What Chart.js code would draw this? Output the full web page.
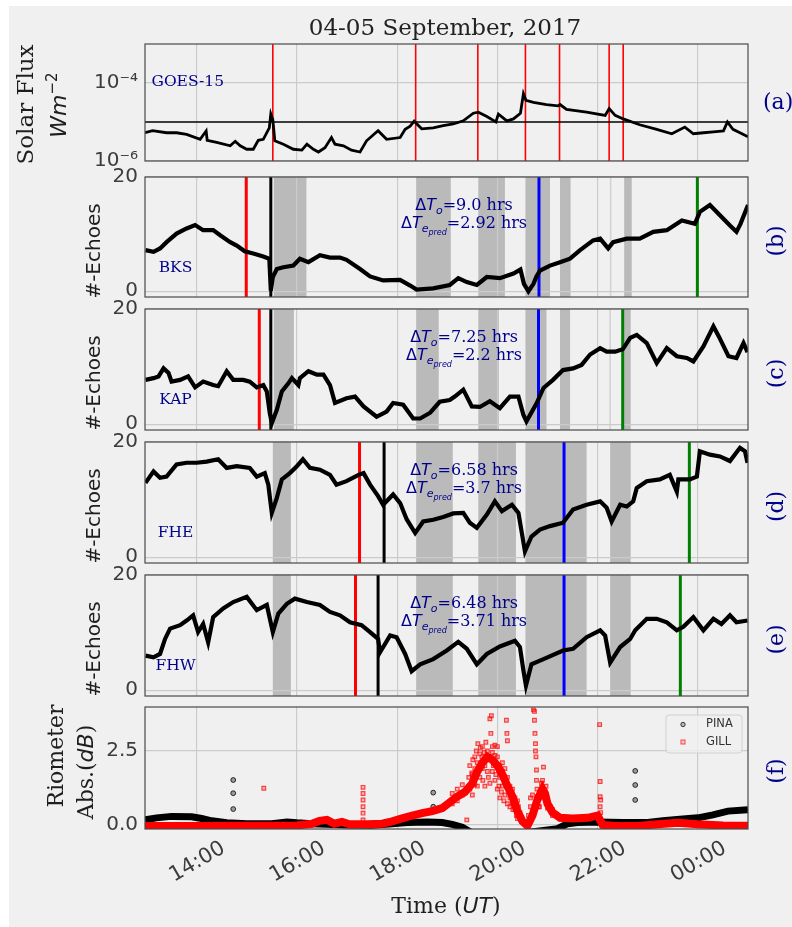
<!DOCTYPE html>
<html>
<head>
<meta charset="utf-8">
<script src="https://cdn.jsdelivr.net/npm/chart.js@4.4.1/dist/chart.umd.min.js"></script>
<style>
  body { margin: 0; background: #fff; }
  #fig { position: relative; width: 792px; height: 927px; overflow: hidden; background: #fff; }
  #bg { position: absolute; left: 9px; top: 6px; right: 0; bottom: 0; background: #f0f0f0; }
  canvas { position: absolute; left: 0; }
</style>
</head>
<body>
<div id="fig"><div id="bg"></div></div>
<script>
// ---- data (time in hours UT, 24+ = next day) ----
const xTicks = [14, 16, 18, 20, 22, 24];

// GOES-15 X-ray flux (W m^-2)
const goesTime = [12.97,13.12,13.40,13.60,13.80,14.07,14.19,14.21,14.40,14.67,14.77,14.87,15.00,15.13,15.23,15.33,15.45,15.48,15.52,15.56,15.73,15.93,16.10,16.20,16.33,16.43,16.56,16.69,16.76,16.93,17.09,17.26,17.39,17.62,17.79,18.06,18.16,18.26,18.34,18.49,18.72,18.92,19.12,19.32,19.52,19.62,19.79,19.97,20.02,20.19,20.32,20.46,20.52,20.57,20.72,20.98,21.21,21.25,21.38,21.78,22.15,22.23,22.35,22.51,22.84,23.18,23.48,23.74,23.91,24.11,24.31,24.51,24.59,24.70,24.84,25.0];
const goesFlux = [5.3e-6,6.0e-6,5.3e-6,5.3e-6,4.8e-6,3.6e-6,5.9e-6,3.4e-6,3.0e-6,2.45e-6,3.2e-6,2.45e-6,2.0e-6,2.0e-6,3.4e-6,3.6e-6,7.1e-6,1.6e-5,1.15e-5,3.3e-6,2.7e-6,2.0e-6,1.9e-6,2.7e-6,2.0e-6,1.7e-6,2.2e-6,4.0e-6,2.7e-6,2.45e-6,1.9e-6,1.7e-6,3.3e-6,6.0e-6,3.6e-6,4.0e-6,6.5e-6,7.8e-6,1.05e-5,6.7e-6,7.1e-6,8.1e-6,8.9e-6,1.07e-5,1.68e-5,1.78e-5,1.38e-5,1.0e-5,1.6e-5,1.07e-5,1.2e-5,1.68e-5,5.3e-5,3.6e-5,3.2e-5,2.8e-5,2.6e-5,2.8e-5,2.1e-5,1.78e-5,1.48e-5,2.2e-5,1.48e-5,1.2e-5,8.5e-6,6.5e-6,5.0e-6,7.4e-6,5.0e-6,5.3e-6,5.6e-6,5.9e-6,1.0e-5,6.5e-6,5.3e-6,4.2e-6];
const flareTimes = [15.52, 18.37, 19.61, 20.56, 21.24, 22.23, 22.51];
const mClass = 1e-5;

// SuperDARN echoes
const bksTime = [12.98,13.14,13.27,13.40,13.60,13.80,13.97,14.13,14.33,14.47,14.67,14.80,14.96,15.13,15.33,15.45,15.48,15.52,15.60,15.73,15.93,16.06,16.23,16.46,16.66,16.86,16.99,17.26,17.46,17.72,18.06,18.26,18.39,18.72,19.05,19.22,19.39,19.59,19.79,20.05,20.32,20.46,20.53,20.62,20.72,20.78,20.85,21.05,21.25,21.45,21.65,21.91,22.05,22.21,22.31,22.58,22.84,23.11,23.38,23.68,23.94,24.04,24.24,24.44,24.64,24.77,24.85,25.0];
const bksVal = [7.2,6.9,7.5,8.6,10.1,11.0,11.6,10.7,10.7,9.8,8.6,8.0,7.0,6.6,6.1,5.7,0.1,2.5,3.9,4.2,4.5,5.7,5.1,6.3,5.9,5.9,5.5,3.9,2.6,1.9,2.0,1.0,0.3,0.5,1.1,2.3,1.6,1.1,2.5,2.3,3.1,3.8,1.3,0.0,1.3,2.6,3.6,4.5,5.1,5.7,7.2,8.9,9.2,7.5,8.6,9.2,9.2,10.4,10.7,12.4,11.8,13.9,15.1,13.3,11.5,10.4,11.8,15.1];

const kapTime = [12.98,13.14,13.24,13.34,13.44,13.50,13.67,13.83,13.97,14.13,14.33,14.43,14.60,14.73,14.93,15.06,15.20,15.33,15.40,15.46,15.50,15.60,15.70,15.83,15.90,16.03,16.06,16.23,16.40,16.53,16.66,16.76,16.99,17.16,17.33,17.59,17.79,17.92,18.12,18.32,18.46,18.66,18.85,19.05,19.15,19.32,19.49,19.65,19.85,20.05,20.25,20.42,20.52,20.58,20.78,20.92,21.11,21.31,21.51,21.68,21.85,22.05,22.18,22.35,22.50,22.65,22.78,22.98,23.18,23.38,23.58,23.78,23.91,24.11,24.31,24.42,24.61,24.77,24.91,24.99];
const kapVal = [7.7,8.0,8.3,9.7,8.9,7.4,7.7,8.3,6.4,7.4,6.8,6.6,9.2,7.7,7.7,7.4,6.4,6.8,5.7,1.9,0.2,2.5,5.7,7.1,8.0,6.8,8.0,9.2,8.6,8.6,6.8,3.7,4.5,4.8,3.1,1.3,2.2,3.7,3.4,1.0,1.0,2.0,3.9,4.2,4.8,6.0,3.1,3.0,4.0,2.8,4.8,4.8,1.6,0.5,3.6,6.3,7.7,9.4,9.7,10.3,12.1,13.2,12.6,12.6,13.0,15.0,15.5,14.1,10.6,13.2,11.8,11.5,10.9,13.5,17.0,15.2,11.8,11.5,14.1,12.5];

const fheTime = [12.98,13.14,13.27,13.40,13.60,13.80,14.00,14.20,14.43,14.60,14.80,15.06,15.20,15.36,15.43,15.50,15.60,15.70,15.86,16.00,16.12,16.26,16.46,16.66,16.79,16.99,17.23,17.33,17.46,17.62,17.72,17.92,18.06,18.19,18.36,18.52,18.72,18.92,19.12,19.32,19.45,19.59,19.79,19.95,20.09,20.29,20.42,20.50,20.55,20.68,20.85,21.05,21.31,21.51,21.78,22.05,22.18,22.28,22.45,22.58,22.71,22.78,22.98,23.24,23.44,23.58,23.61,23.84,23.98,24.04,24.24,24.44,24.64,24.84,24.94,24.99];
const fheVal = [12.9,14.9,13.8,14.0,16.1,16.4,16.4,16.6,17.0,15.5,15.8,15.5,14.0,14.6,12.6,7.7,10.3,13.5,14.6,15.8,17.0,15.5,15.2,14.3,12.6,13.2,14.3,14.6,12.6,10.6,9.1,10.9,9.4,6.6,4.2,6.2,6.5,7.0,7.6,7.7,6.0,5.1,7.4,9.7,8.0,9.1,7.7,3.6,1.0,3.6,4.8,5.4,6.0,8.3,9.1,9.7,8.6,6.2,9.1,8.8,9.7,12.0,13.2,13.5,14.3,11.4,13.5,13.5,14.0,18.4,17.8,17.5,16.7,19.0,18.4,16.4];

const fhwTime = [12.98,13.14,13.27,13.37,13.47,13.67,13.80,13.93,14.03,14.13,14.23,14.33,14.53,14.73,15.00,15.20,15.40,15.52,15.63,15.80,15.96,16.20,16.46,16.66,16.86,17.06,17.29,17.46,17.62,17.66,17.86,17.99,18.16,18.29,18.46,18.72,18.99,19.22,19.39,19.59,19.79,20.05,20.35,20.45,20.52,20.57,20.68,20.92,21.31,21.51,21.78,22.05,22.15,22.25,22.45,22.65,22.75,22.98,23.18,23.38,23.58,23.71,23.91,24.11,24.31,24.47,24.64,24.77,24.99];
const fhwVal = [6.0,5.7,6.3,8.9,10.7,11.3,12.1,13.0,10.1,11.5,8.3,12.7,14.2,15.3,16.2,13.9,14.8,10.1,13.3,15.0,15.9,15.3,14.8,13.6,13.0,11.8,11.3,10.1,8.9,6.6,9.5,9.2,6.3,3.3,4.5,5.4,6.9,8.4,7.2,4.5,6.3,7.6,8.6,7.5,3.4,0.8,4.5,5.4,6.9,7.2,9.2,10.4,9.5,4.8,7.5,8.9,10.4,12.4,12.4,11.8,10.4,11.0,12.7,10.4,12.4,11.5,13.0,11.8,12.1];

// event markers per radar: [red, black, blue, green]
const eventsB = [14.99, 15.48, 20.83, 23.99];
const eventsC = [15.25, 15.48, 20.82, 22.50];
const eventsD = [17.25, 17.74, 21.33, 23.83];
const eventsE = [17.17, 17.62, 21.33, 23.65];

// shaded intervals
const shadeB = [[15.54,16.19],[18.38,19.07],[19.62,20.15],[20.56,21.05],[21.25,21.46],[22.53,22.68]];
const shadeC = [[15.54,15.94],[18.38,18.83],[19.62,20.03],[20.56,20.98],[21.25,21.45],[22.51,22.66]];
const shadeD = [[15.52,15.88],[18.38,19.11],[19.62,20.37],[20.56,21.78],[22.25,22.66]];
const shadeE = [[15.52,15.88],[18.38,19.11],[19.62,20.37],[20.56,21.78],[22.25,22.66]];

const stations = ['BKS', 'KAP', 'FHE', 'FHW'];
const dTo = ['9.0', '7.25', '6.58', '6.48'];
const dTe = ['2.92', '2.2', '3.7', '3.71'];

// riometer absorption (dB)
const pinaTime = [12.97,13.2,13.5,13.9,14.1,14.3,14.6,15.0,15.5,15.8,16.0,16.3,16.6,17.0,17.5,17.9,18.2,18.6,18.9,19.1,19.3,19.5,20.5,21.2,21.4,21.6,22.0,22.5,23.0,23.3,23.7,24.0,24.3,24.6,25.0];
const pinaVal = [0.15,0.22,0.27,0.26,0.2,0.12,0.05,0.02,0.02,0.08,0.05,0.02,0.0,-0.02,-0.03,0.02,0.06,0.08,0.06,0.0,-0.1,-0.3,-0.3,-0.15,0.02,0.06,0.08,0.06,0.06,0.12,0.18,0.22,0.32,0.45,0.5];
const pinaOutT = [14.73,14.73,14.73,18.72,18.72,22.75,22.75,22.75];
const pinaOutV = [1.51,1.06,0.52,1.08,0.6,1.82,1.34,0.83];

const gillTime = [12.97,14.0,15.0,16.0,16.3,16.45,16.6,16.75,16.9,17.05,17.4,17.7,17.9,18.1,18.3,18.5,18.7,18.9,19.05,19.2,19.35,19.5,19.6,19.7,19.8,19.9,20.0,20.1,20.2,20.3,20.4,20.5,20.6,20.7,20.8,20.9,20.95,21.0,21.1,21.25,21.5,21.8,22.0,22.1,22.3,22.8,23.2,23.6,24.0,24.5,25.0];
const gillVal = [-0.06,-0.06,-0.05,-0.04,0.02,0.12,0.15,0.02,0.08,0.0,0.0,0.02,0.1,0.2,0.3,0.38,0.45,0.55,0.75,0.95,1.1,1.4,1.8,2.1,2.3,2.2,2.0,1.7,1.3,0.95,0.45,0.1,-0.05,0.3,0.85,1.2,1.05,0.7,0.4,0.22,0.2,0.22,0.3,-0.02,-0.05,-0.06,0.0,0.05,0.0,-0.04,-0.05];
const gillCloudT = [15.34,17.32,17.32,17.32,17.32,17.32,17.32,19.1,19.1,19.2,19.2,19.3,19.3,19.39,19.43,19.45,19.45,19.49,19.5,19.5,19.51,19.55,19.55,19.55,19.58,19.6,19.6,19.61,19.63,19.65,19.65,19.66,19.69,19.7,19.7,19.71,19.74,19.75,19.75,19.77,19.79,19.8,19.8,19.82,19.85,19.85,19.85,19.87,19.88,19.9,19.9,19.9,19.92,19.95,19.95,19.95,19.97,20.0,20.0,20.0,20.03,20.05,20.05,20.05,20.08,20.1,20.1,20.1,20.13,20.15,20.15,20.15,20.18,20.19,20.2,20.2,20.2,20.22,20.25,20.25,20.25,20.28,20.3,20.3,20.31,20.35,20.35,20.38,20.4,20.4,20.42,20.45,20.62,20.66,20.66,20.7,20.72,20.74,20.74,20.75,20.76,20.76,20.77,20.78,20.78,20.79,20.8,20.82,20.84,20.84,20.88,20.9,20.9,20.92,20.95,20.97,20.97,21.0,21.05,21.1,21.1,22.04,22.05,22.05,22.06,22.05,22.06];
const gillCloudV = [1.23,1.26,1.05,0.83,0.6,0.38,0.15,0.7,1.05,0.8,1.2,1.0,1.35,0.15,1.6,2.0,1.2,1.75,1.0,1.7,2.2,1.35,1.9,2.3,2.5,1.3,2.1,2.75,1.9,1.6,2.4,2.6,2.3,1.9,2.65,1.5,2.45,1.3,2.0,2.8,2.2,2.5,1.8,1.6,3.6,1.4,2.3,3.1,3.7,2.65,1.8,2.45,2.0,2.35,1.5,2.7,1.7,2.65,1.2,2.3,1.3,2.0,1.6,0.9,1.1,1.8,1.3,2.1,0.8,1.5,1.0,1.9,3.55,3.1,2.85,0.7,1.6,1.2,0.6,1.3,0.9,1.0,0.7,1.2,0.5,0.9,0.5,0.3,0.8,0.2,0.6,0.4,0.3,0.6,0.9,1.0,3.9,3.85,3.55,3.1,2.75,2.5,2.3,1.85,1.5,1.2,0.95,0.6,1.1,0.6,1.4,1.5,0.9,1.95,1.15,1.3,0.8,0.55,0.6,0.3,0.5,3.4,1.46,0.94,0.83,0.6,0.4];

// ---- styling ----
const SANS = "'DejaVu Sans'", SERIF = "'DejaVu Serif'";
const X_MIN = 12.97, X_MAX = 25.0;
const GRID = '#cbcbcb', TICK = '#3c3c3c', LABEL = '#1e1e1e', BLUE = '#00008b';
const SHADE = 'rgba(120,120,120,0.45)';
Chart.defaults.font.family = SANS;

function pts(ts, vs) {
    return ts.map((t, i) => ({ x: t, y: vs[i] }));
}

function makeCanvas(top, height) {
    const c = document.createElement('canvas');
    c.width = 792; c.height = height;
    c.style.top = top + 'px';
    c.style.width = '792px'; c.style.height = height + 'px';
    document.getElementById('fig').appendChild(c);
    return c;
}

// text helpers (absolute page coordinates)
function drawRich(ctx, runs, x, y, rot) {
    ctx.save();
    ctx.translate(x, y);
    if (rot) ctx.rotate(rot);
    ctx.textAlign = 'left';
    ctx.textBaseline = 'alphabetic';
    let w = 0;
    runs.forEach(r => { ctx.font = r[1]; w += ctx.measureText(r[0]).width; });
    let cx = -w / 2;
    runs.forEach(r => {
        ctx.font = r[1];
        ctx.fillText(r[0], cx, r[2] || 0);
        cx += ctx.measureText(r[0]).width;
    });
    ctx.restore();
}

function vtext(ctx, txt, font, x, y) {
    ctx.save();
    ctx.translate(x, y);
    ctx.rotate(-Math.PI / 2);
    ctx.font = font;
    ctx.textAlign = 'center';
    ctx.textBaseline = 'middle';
    ctx.fillText(txt, 0, 0);
    ctx.restore();
}

function xScale(showLabels, height) {
    return {
        type: 'linear', min: X_MIN, max: X_MAX,
        afterBuildTicks: s => { s.ticks = xTicks.map(v => ({ value: v })); },
        afterFit: s => { s.height = height; },
        grid: { color: GRID, lineWidth: 1.2, drawTicks: false },
        border: { display: false },
        ticks: {
            display: showLabels, autoSkip: false,
            minRotation: 30, maxRotation: 30, labelOffset: 27, padding: 7,
            font: { family: SANS, size: 21 }, color: TICK,
            callback: v => String(Math.round(v) % 24).padStart(2, '0') + ':00'
        }
    };
}

function yScale(type, min, max, ticks, fmt) {
    return {
        type: type, min: min, max: max,
        afterBuildTicks: s => { s.ticks = ticks.map(v => ({ value: v })); },
        afterFit: s => { s.width = 145; },
        grid: { color: GRID, lineWidth: 1.2, drawTicks: false },
        border: { display: false },
        ticks: { padding: 7, font: { family: SANS, size: 20 }, color: TICK, callback: fmt }
    };
}

function panel(p) {
    const canvas = makeCanvas(p.canvasTop, p.canvasHeight);
    const deco = {
        id: 'deco',
        beforeDraw(chart) {
            const { ctx, chartArea: a, scales: { x } } = chart;
            ctx.save();
            ctx.fillStyle = SHADE;
            (p.spans || []).forEach(([t0, t1]) => {
                const x0 = x.getPixelForValue(t0), x1 = x.getPixelForValue(t1);
                ctx.fillRect(x0, a.top, x1 - x0, a.bottom - a.top);
            });
            (p.light || []).forEach(t => {
                const px = x.getPixelForValue(t);
                ctx.fillStyle = '#d3d3d3';
                ctx.fillRect(px - 0.8, a.top, 1.6, a.bottom - a.top);
            });
            ctx.restore();
        },
        beforeDatasetsDraw(chart) {
            const { ctx, chartArea: a, scales: { x, y } } = chart;
            ctx.save();
            (p.lines || []).forEach(([t, color, w]) => {
                const px = x.getPixelForValue(t);
                ctx.strokeStyle = color; ctx.lineWidth = w;
                ctx.beginPath(); ctx.moveTo(px, a.top); ctx.lineTo(px, a.bottom); ctx.stroke();
            });
            if (p.hline !== undefined) {
                const py = y.getPixelForValue(p.hline);
                ctx.strokeStyle = '#000'; ctx.lineWidth = 1.6;
                ctx.beginPath(); ctx.moveTo(a.left, py); ctx.lineTo(a.right, py); ctx.stroke();
            }
            ctx.restore();
        },
        afterDatasetsDraw(chart) {
            const { ctx, chartArea: a } = chart;
            ctx.save();
            ctx.strokeStyle = '#4a4a4a'; ctx.lineWidth = 1.2;
            ctx.strokeRect(a.left, a.top, a.right - a.left, a.bottom - a.top);
            ctx.restore();
        },
        afterDraw(chart) {
            const ctx = chart.ctx;
            ctx.save();
            ctx.translate(0, -p.canvasTop);
            p.text(ctx, chart);
            ctx.restore();
        }
    };
    return new Chart(canvas, {
        type: 'line',
        data: { datasets: p.datasets },
        options: {
            responsive: false, animation: false, devicePixelRatio: 1, events: [],
            layout: { padding: { left: 0, right: 44, top: p.padTop, bottom: p.padBottom } },
            plugins: { legend: { display: false }, tooltip: { enabled: false } },
            scales: { x: xScale(p.xLabels, p.xHeight), y: p.y }
        },
        plugins: [deco]
    });
}

// ---- panel (a): GOES ----
panel({
    canvasTop: 0, canvasHeight: 180, padTop: 44, padBottom: 16, xLabels: false, xHeight: 0,
    y: yScale('logarithmic', 1e-6, 1e-3, [1e-6, 1e-4], v => v > 5e-5 ? '10\u207B\u2074' : '10\u207B\u2076'),
    datasets: [{
        data: pts(goesTime, goesFlux), borderColor: '#000', borderWidth: 2.8,
        pointRadius: 0, tension: 0
    }],
    lines: flareTimes.map(t => [t, '#ff0000', 1.6]),
    hline: mClass,
    text(ctx) {
        ctx.fillStyle = '#222';
        ctx.font = `23px ${SERIF}`; ctx.textAlign = 'center'; ctx.textBaseline = 'alphabetic';
        ctx.fillText('04-05 September, 2017', 445, 35);
        ctx.fillStyle = LABEL;
        vtext(ctx, 'Solar Flux', `23px ${SERIF}`, 27, 104.5);
        drawRich(ctx, [['Wm', `italic 22px ${SANS}`], ['\u22122', `15px ${SANS}`, -9]], 66, 105, -Math.PI / 2);
        ctx.fillStyle = BLUE;
        ctx.font = `15.5px ${SERIF}`; ctx.textAlign = 'left'; ctx.textBaseline = 'alphabetic';
        ctx.fillText('GOES-15', 151.5, 86);
        ctx.font = `22px ${SERIF}`; ctx.textBaseline = 'middle';
        ctx.fillText('(a)', 763, 103);
    }
});

// ---- panels (b)-(e): radar echoes ----
const echoData = [
    { time: bksTime, vals: bksVal, ev: eventsB, spans: shadeB, light: [22.26], top: 177, h: 120, tag: '(b)' },
    { time: kapTime, vals: kapVal, ev: eventsC, spans: shadeC, light: [22.25], top: 309, h: 121, tag: '(c)' },
    { time: fheTime, vals: fheVal, ev: eventsD, spans: shadeD, light: [], top: 442, h: 121, tag: '(d)' },
    { time: fhwTime, vals: fhwVal, ev: eventsE, spans: shadeE, light: [], top: 575, h: 121, tag: '(e)' }
];
const evColors = ['#ff0000', '#000000', '#0000ff', '#008000'];

echoData.forEach((d, i) => {
    panel({
        canvasTop: d.top - 30, canvasHeight: d.h + 60, padTop: 30, padBottom: 30, xLabels: false, xHeight: 0,
        y: yScale('linear', -1, 20, [0, 20], v => String(v)),
        datasets: [{
            data: pts(d.time, d.vals), borderColor: '#000', borderWidth: 4.2,
            pointRadius: 0, tension: 0
        }],
        spans: d.spans, light: d.light,
        lines: d.ev.map((t, k) => [t, evColors[k], 3]),
        text(ctx) {
            const top = d.top;
            ctx.fillStyle = LABEL;
            vtext(ctx, '#-Echoes', `20px ${SANS}`, 95, top + 74);
            ctx.fillStyle = BLUE;
            ctx.font = `15.5px ${SERIF}`; ctx.textAlign = 'center'; ctx.textBaseline = 'alphabetic';
            ctx.fillText(stations[i], 175.5, top + 95);
            const f = `16px ${SANS}`, fi = `italic 16px ${SANS}`, fs = `16px ${SERIF}`;
            drawRich(ctx, [['\u0394', f], ['T', fi], ['o', `italic 11px ${SANS}`, 3.5], ['=' + dTo[i] + ' hrs', fs]], 464, top + 33);
            drawRich(ctx, [['\u0394', f], ['T', fi], ['e', `italic 11px ${SANS}`, 3.5], ['pred', `italic 8px ${SANS}`, 6.5], ['=' + dTe[i] + ' hrs', fs]], 464, top + 51);
            vtext(ctx, d.tag, `22px ${SERIF}`, 777.5, top + d.h / 2 + 4);
        }
    });
});

// ---- panel (f): riometers ----
panel({
    canvasTop: 677, canvasHeight: 250, padTop: 30, padBottom: 38, xLabels: true, xHeight: 60,
    y: yScale('linear', -0.16, 4.0, [0, 2.5], v => v.toFixed(1)),
    datasets: [
        { data: pts(gillCloudT, gillCloudV), showLine: false, pointStyle: 'rect', pointRadius: 2.6,
          pointBorderWidth: 1.2, pointBorderColor: 'rgba(255,0,0,0.7)', pointBackgroundColor: 'rgba(255,0,0,0.25)',
          order: 1, clip: 0 },
        { data: pts(gillTime, gillVal), borderColor: '#ff0000', borderWidth: 8, pointRadius: 0, tension: 0,
          order: 2, clip: 0 },
        { data: pts(pinaOutT, pinaOutV), showLine: false, pointStyle: 'circle', pointRadius: 2.4,
          pointBorderWidth: 1, pointBorderColor: 'rgba(0,0,0,0.8)', pointBackgroundColor: 'rgba(0,0,0,0.35)',
          order: 3, clip: 0 },
        { data: pts(pinaTime, pinaVal), borderColor: '#000', borderWidth: 7, pointRadius: 0, tension: 0,
          order: 4, clip: 0 }
    ],
    text(ctx, chart) {
        ctx.fillStyle = LABEL;
        vtext(ctx, 'Riometer', `22px ${SERIF}`, 57, 756);
        drawRich(ctx, [['Abs.(', `22px ${SERIF}`], ['dB', `italic 22px ${SANS}`], [')', `22px ${SERIF}`]], 93, 772, -Math.PI / 2);
        drawRich(ctx, [['Time (', `22px ${SERIF}`], ['UT', `italic 22px ${SANS}`], [')', `22px ${SERIF}`]], 446, 913);
        ctx.fillStyle = BLUE;
        vtext(ctx, '(f)', `22px ${SERIF}`, 777.5, 771);
        // legend
        ctx.fillStyle = 'rgba(240,240,240,0.8)';
        ctx.strokeStyle = '#d0d0d0'; ctx.lineWidth = 1;
        ctx.beginPath(); ctx.roundRect(666, 715, 76, 38, 3); ctx.fill(); ctx.stroke();
        ctx.strokeStyle = 'rgba(0,0,0,0.7)'; ctx.fillStyle = 'rgba(0,0,0,0.25)';
        ctx.beginPath(); ctx.arc(683, 724.5, 2.2, 0, Math.PI * 2); ctx.fill(); ctx.stroke();
        ctx.strokeStyle = 'rgba(255,0,0,0.7)'; ctx.fillStyle = 'rgba(255,0,0,0.15)';
        ctx.fillRect(681, 740, 4, 4); ctx.strokeRect(681, 740, 4, 4);
        ctx.fillStyle = '#333';
        ctx.font = `11.5px ${SANS}`; ctx.textAlign = 'left'; ctx.textBaseline = 'middle';
        ctx.fillText('PINA', 706, 724.5);
        ctx.fillText('GILL', 706, 742);
    }
});
</script>
</body>
</html>
